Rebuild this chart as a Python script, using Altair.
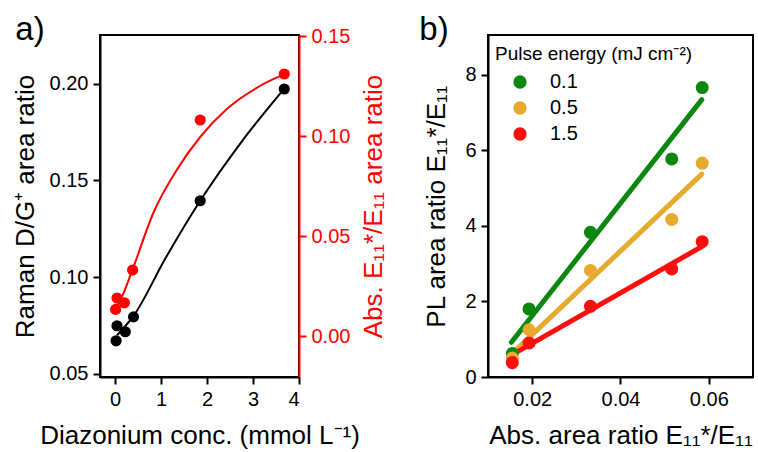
import altair as alt
import pandas as pd

# ---------------- Panel a data ----------------
conc_raman = [0.02, 0.04, 0.22, 0.40, 1.85, 3.68]
raman_dg = [0.0671, 0.0749, 0.0718, 0.0795, 0.1395, 0.1973]
conc_abs = [0.01, 0.04, 0.20, 0.38, 1.85, 3.68]
abs_ratio = [0.0133, 0.0190, 0.0166, 0.0330, 0.1080, 0.1310]
# fitted curves
raman_fit_x = [0.04, 0.40, 1.10, 1.85, 2.75, 3.68]
raman_fit_y = [0.0700, 0.0800, 0.1100, 0.1395, 0.1700, 0.1975]
abs_fit_x = [0.00, 0.20, 0.38, 0.83, 1.34, 1.85, 2.43, 3.15, 3.68]
abs_fit_y = [0.0125, 0.0225, 0.0333, 0.0615, 0.0830, 0.0995, 0.1135, 0.1250, 0.1309]

# ---------------- Panel b data ----------------
energies = ["0.1", "0.5", "1.5"]
colors = ["#0a870f", "#e6aa2e", "#ff0d0d"]
abs_area = [0.0155, 0.0193, 0.0332, 0.0516, 0.0585]
pl_01 = [0.62, 1.80, 3.83, 5.77, 7.66]
pl_05 = [0.50, 1.25, 2.82, 4.17, 5.66]
pl_15 = [0.38, 0.90, 1.87, 2.86, 3.58]
fit_x = [0.0153, 0.0584]
fit_01 = [0.92, 7.34]
fit_05 = [0.60, 5.37]
fit_15 = [0.58, 3.45]

FONT = "Liberation Sans"

# ---------------- Panel a ----------------
df_raman = pd.DataFrame({"conc": conc_raman, "val": raman_dg})
df_raman_fit = pd.DataFrame({"conc": raman_fit_x, "val": raman_fit_y})
df_abs = pd.DataFrame({"conc": conc_abs, "val": abs_ratio})
df_abs_fit = pd.DataFrame({"conc": abs_fit_x, "val": abs_fit_y})

xa = alt.X("conc:Q",
           scale=alt.Scale(domain=[-0.33, 4.0], nice=False, zero=False),
           axis=alt.Axis(values=[0, 1, 2, 3, 4], format="d",
                         title="Diazonium conc. (mmol L⁻¹)", titlePadding=13))
y_left = alt.Y("val:Q",
               scale=alt.Scale(domain=[0.0484, 0.2252], nice=False, zero=False),
               axis=alt.Axis(values=[0.05, 0.10, 0.15, 0.20], format=".2f",
                             title="Raman D/G⁺ area ratio", titlePadding=11))
y_right = alt.Y("val:Q",
                scale=alt.Scale(domain=[-0.0205, 0.1505], nice=False, zero=False),
                axis=alt.Axis(orient="right", values=[0.0, 0.05, 0.10, 0.15], format=".2f",
                              title="Abs. E₁₁*/E₁₁ area ratio",
                              titleAngle=270, titleBaseline="top", titlePadding=11,
                              domainColor="#ff0000", tickColor="#ff0000",
                              labelColor="#ff0000", titleColor="#ff0000"))

black_line = alt.Chart(df_raman_fit).mark_line(color="black", strokeWidth=2, interpolate="monotone").encode(x=xa, y=y_left)
black_pts = alt.Chart(df_raman).mark_circle(color="black", size=125, opacity=1).encode(x=xa, y=y_left)
red_line = alt.Chart(df_abs_fit).mark_line(color="#ff0000", strokeWidth=2, interpolate="monotone").encode(x=xa, y=y_right)
red_pts = alt.Chart(df_abs).mark_circle(color="#ff0000", size=125, opacity=1).encode(x=xa, y=y_right)

label_a = alt.Chart(pd.DataFrame({"t": ["a)"]})).mark_text(
    fontSize=33, align="center", baseline="alphabetic", font=FONT, color="black"
).encode(text="t:N", x=alt.value(-70), y=alt.value(5))

panel_a = alt.layer(
    alt.layer(black_line, black_pts),
    alt.layer(red_line, red_pts),
    label_a,
).resolve_scale(y="independent").properties(width=199, height=342)

# ---------------- Panel b ----------------
pts_rows = []
for e, vals in zip(energies, [pl_01, pl_05, pl_15]):
    for xv, yv in zip(abs_area, vals):
        pts_rows.append({"abs": xv, "pl": yv, "energy": e})
df_pts = pd.DataFrame(pts_rows)
fit_rows = []
for e, vals in zip(energies, [fit_01, fit_05, fit_15]):
    for xv, yv in zip(fit_x, vals):
        fit_rows.append({"abs": xv, "pl": yv, "energy": e})
df_fit = pd.DataFrame(fit_rows)

xb = alt.X("abs:Q",
           scale=alt.Scale(domain=[0.01, 0.07], nice=False, zero=False),
           axis=alt.Axis(values=[0.02, 0.04, 0.06], format=".2f",
                         title="Abs. area ratio E₁₁*/E₁₁", titlePadding=13))
yb = alt.Y("pl:Q",
           scale=alt.Scale(domain=[0, 9.05], nice=False, zero=False),
           axis=alt.Axis(values=[0, 2, 4, 6, 8], format="d",
                         title="PL area ratio E₁₁*/E₁₁", titlePadding=15))
cscale = alt.Scale(domain=energies, range=colors)

lines_b = alt.Chart(df_fit).mark_line(strokeWidth=5, strokeCap="round").encode(
    x=xb, y=yb, color=alt.Color("energy:N", scale=cscale, legend=None)
)
pts_b = alt.Chart(df_pts).mark_circle(size=170, opacity=1).encode(
    x=xb, y=yb,
    color=alt.Color("energy:N", scale=cscale,
                    legend=alt.Legend(title="Pulse energy (mJ cm⁻²)", orient="none",
                                      legendX=7, legendY=10, titleLimit=400,
                                      titleFontSize=19, titleFontWeight="normal",
                                      titleColor="black", titleFont=FONT,
                                      labelFontSize=20, labelColor="black", labelFont=FONT,
                                      symbolType="circle", symbolSize=177,
                                      symbolStrokeWidth=0, symbolOffset=15,
                                      labelOffset=20, rowPadding=6, titlePadding=8))
)
label_b = alt.Chart(pd.DataFrame({"t": ["b)"]})).mark_text(
    fontSize=33, align="center", baseline="alphabetic", font=FONT, color="black"
).encode(text="t:N", x=alt.value(-54), y=alt.value(5))

panel_b = alt.layer(lines_b, pts_b, label_b).resolve_legend(color="independent").properties(width=265, height=342)

chart = alt.hconcat(panel_a, panel_b, spacing=30).properties(
    padding={"left": 11, "top": 13, "right": 0, "bottom": 0}
).configure(font=FONT).configure_view(
    stroke="black", strokeWidth=2
).configure_axis(
    labelFont=FONT, titleFont=FONT,
    labelFontSize=20, titleFontSize=26, titleFontWeight="normal",
    labelColor="black", titleColor="black",
    domainColor="black", tickColor="black",
    domainWidth=2, tickWidth=2, tickSize=7, labelPadding=5, grid=False
)

chart.save("out.html", embed_options={"renderer": "svg", "actions": False})
